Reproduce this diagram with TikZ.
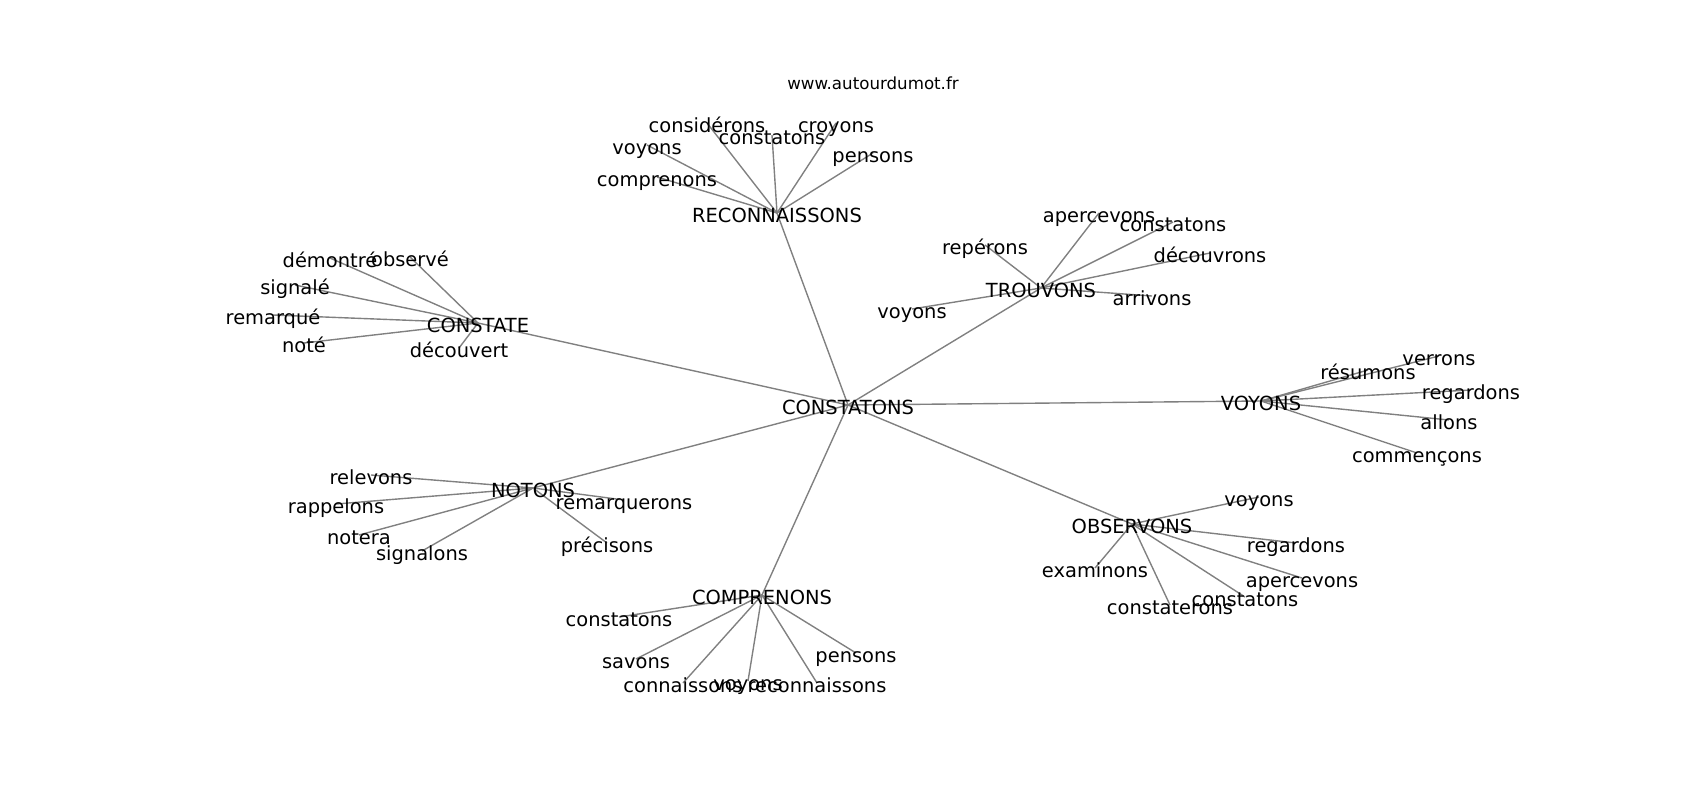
\documentclass[tikz,border=0pt]{standalone}
\usepackage{fontspec}
\setmainfont{DejaVu Sans}
\usetikzlibrary{backgrounds}

\begin{document}
\begin{tikzpicture}[x=0.72pt,y=-0.72pt,
  word/.style={inner sep=0pt,text height=13pt,text depth=0pt,font=\fontsize{14}{16}\selectfont},
  link/.style={draw=black!50,line width=1pt}]
\useasboundingbox (0,0) rectangle (1700,800);
\node [inner sep=0pt,font=\fontsize{12}{14}\selectfont] (site) at (873,83) {www.autourdumot.fr};
% hubs
\node [word] (ctn) at (848,405) {CONSTATONS};
\node [word] (rec) at (777,213) {RECONNAISSONS};
\node [word] (tro) at (1041,288) {TROUVONS};
\node [word] (cst) at (478,323) {CONSTATE};
\node [word] (voy) at (1261,401) {VOYONS};
\node [word] (not) at (533,488) {NOTONS};
\node [word] (obs) at (1132,524) {OBSERVONS};
\node [word] (com) at (762,595) {COMPRENONS};
% around RECONNAISSONS
\node [word] (rec1) at (707,123) {considérons};
\node [word] (rec2) at (772,135) {constatons};
\node [word] (rec3) at (836,123) {croyons};
\node [word] (rec4) at (647,145) {voyons};
\node [word] (rec5) at (873,153) {pensons};
\node [word] (rec6) at (657,177) {comprenons};
% around CONSTATE
\node [word] (cst1) at (330,258) {démontré};
\node [word] (cst2) at (410,257) {observé};
\node [word] (cst3) at (295,285) {signalé};
\node [word] (cst4) at (273,315) {remarqué};
\node [word] (cst5) at (304,343) {noté};
\node [word] (cst6) at (459,348) {découvert};
% around TROUVONS
\node [word] (tro1) at (1099,213) {apercevons};
\node [word] (tro2) at (1173,222) {constatons};
\node [word] (tro3) at (1210,253) {découvrons};
\node [word] (tro4) at (985,245) {repérons};
\node [word] (tro5) at (912,309) {voyons};
\node [word] (tro6) at (1152,296) {arrivons};
% around VOYONS
\node [word] (voy1) at (1368,370) {résumons};
\node [word] (voy2) at (1439,356) {verrons};
\node [word] (voy3) at (1471,390) {regardons};
\node [word] (voy4) at (1449,420) {allons};
\node [word] (voy5) at (1417,453) {commençons};
% around NOTONS
\node [word] (not1) at (371,475) {relevons};
\node [word] (not2) at (336,504) {rappelons};
\node [word] (not3) at (359,535) {notera};
\node [word] (not4) at (422,551) {signalons};
\node [word] (not5) at (624,500) {remarquerons};
\node [word] (not6) at (607,543) {précisons};
% around OBSERVONS
\node [word] (obs1) at (1259,497) {voyons};
\node [word] (obs2) at (1296,543) {regardons};
\node [word] (obs3) at (1302,578) {apercevons};
\node [word] (obs4) at (1245,597) {constatons};
\node [word] (obs5) at (1170,605) {constaterons};
\node [word] (obs6) at (1095,568) {examinons};
% around COMPRENONS
\node [word] (com1) at (619,617) {constatons};
\node [word] (com2) at (636,659) {savons};
\node [word] (com3) at (683,683) {connaissons};
\node [word] (com4) at (748,681) {voyons};
\node [word] (com5) at (817,683) {reconnaissons};
\node [word] (com6) at (856,653) {pensons};
% links under the words
\begin{scope}[on background layer]
\foreach \hub in {rec,tro,cst,voy,not,obs,com}
  \draw [link] (ctn.center) -- (\hub.center);
\foreach \i in {1,...,6} {
  \draw [link] (rec.center) -- (rec\i.center);
  \draw [link] (cst.center) -- (cst\i.center);
  \draw [link] (tro.center) -- (tro\i.center);
  \draw [link] (not.center) -- (not\i.center);
  \draw [link] (obs.center) -- (obs\i.center);
  \draw [link] (com.center) -- (com\i.center);
}
\foreach \i in {1,...,5}
  \draw [link] (voy.center) -- (voy\i.center);
\end{scope}
\end{tikzpicture}
\end{document}
